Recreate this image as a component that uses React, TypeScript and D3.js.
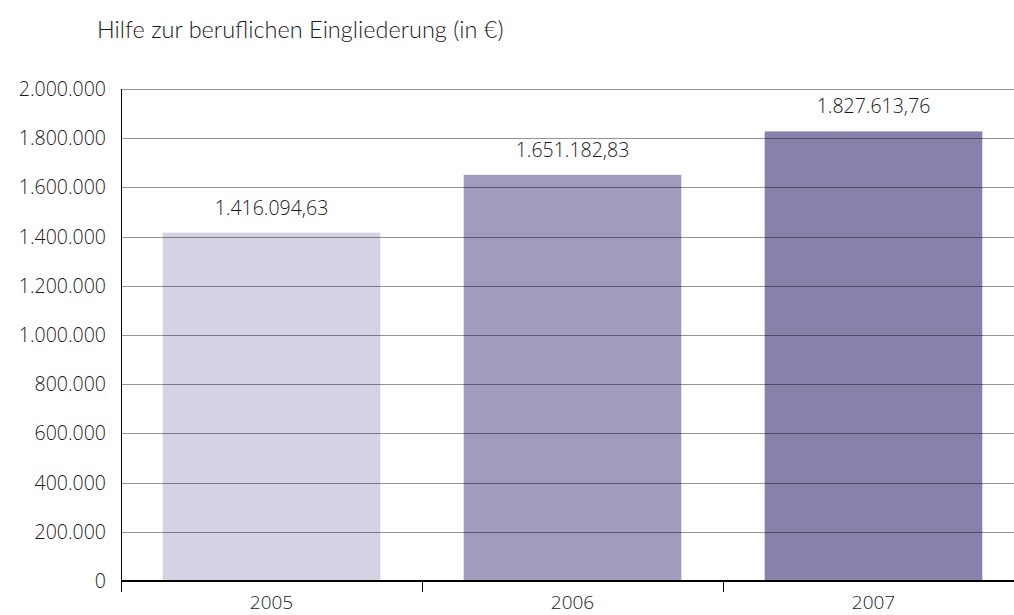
import React from "react";
import * as d3 from "d3";

const title = "Hilfe zur beruflichen Eingliederung (in €)";
const years = ["2005", "2006", "2007"];
const values = [1416094.63, 1651182.83, 1827613.76];
const valueLabels = ["1.416.094,63", "1.651.182,83", "1.827.613,76"];
const barColors = ["#d4d2e3", "#a29bbd", "#8881ab"];
const yTicks = [0, 200000, 400000, 600000, 800000, 1000000, 1200000, 1400000, 1600000, 1800000, 2000000];

const W = 1014;
const H = 615;
const FONT = "'Open Sans', sans-serif";

export default function App() {
  const x = d3.scaleBand<string>().domain(years).range([121, 1024]).paddingInner(0.277).paddingOuter(0.1385);
  const y = d3.scaleLinear().domain([0, 2000000]).range([581, 89]);
  const fmt = (v: number) => d3.format(",")(v).replace(/,/g, ".");
  const step = x.step();
  const bounds = [0, 1, 2, 3].map((i) => 121 + i * step);

  return (
    <svg width={W} height={H} style={{ position: "absolute", left: 0, top: 0, background: "#fff" }} fontFamily={FONT}>
      <text x={97} y={38} fontSize={23.5} fill="#1a1a1a" fontFamily="Lato, sans-serif" fontWeight={300}>{title}</text>
      {years.map((yr, i) => (
        <rect key={yr} x={x(yr)} y={y(values[i])} width={x.bandwidth()} height={y(0) - y(values[i])} fill={barColors[i]} />
      ))}
      {yTicks.filter((t) => t > 0).map((t) => (
        <line key={t} x1={121} x2={W} y1={Math.round(y(t)) + 0.5} y2={Math.round(y(t)) + 0.5} stroke="#000" strokeOpacity={0.42} strokeWidth={1} />
      ))}
      {yTicks.map((t) => (
        <text key={"l" + t} x={106} y={y(t) + 7} fontSize={19.5} textAnchor="end" fill="#1a1a1a" fontWeight={300}>{fmt(t)}</text>
      ))}
      {years.map((yr, i) => (
        <text key={"v" + yr} x={x(yr)! + x.bandwidth() / 2} y={y(values[i]) - 18} fontSize={19.5} textAnchor="middle" fill="#1a1a1a" fontWeight={300}>{valueLabels[i]}</text>
      ))}
      <line x1={121.5} x2={121.5} y1={89} y2={592} stroke="#000" strokeWidth={1} />
      <line x1={121} x2={W} y1={581} y2={581} stroke="#000" strokeWidth={2} />
      {bounds.slice(1).map((b) => (
        <line key={"t" + b} x1={Math.round(b) + 0.5} x2={Math.round(b) + 0.5} y1={581} y2={592} stroke="#000" strokeWidth={1} />
      ))}
      {years.map((yr) => (
        <text key={"x" + yr} x={x(yr)! + x.bandwidth() / 2} y={609} fontSize={19} textAnchor="middle" fill="#1a1a1a" fontWeight={300}>{yr}</text>
      ))}
    </svg>
  );
}
